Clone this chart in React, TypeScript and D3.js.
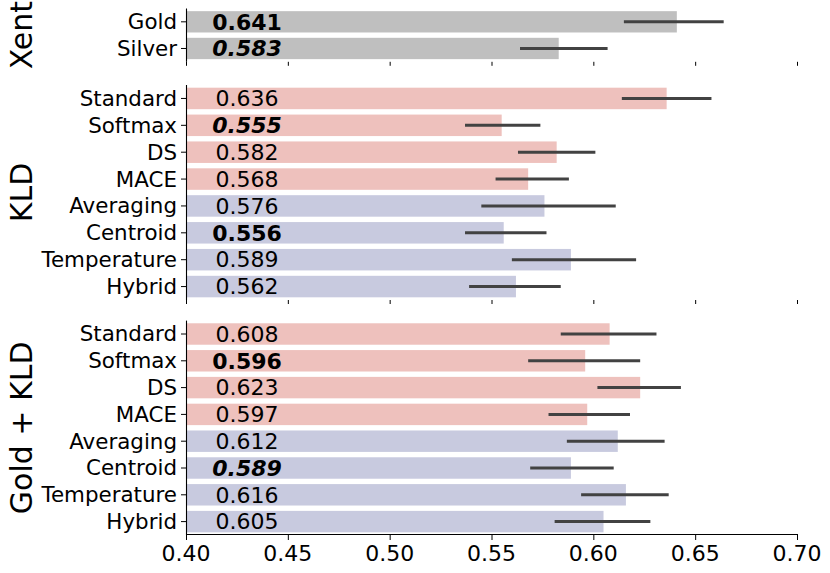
import * as React from "react";
import * as d3 from "d3";

const xentCats = ["Gold", "Silver"];
const xentValues = [0.641, 0.583];
const xentLow = [0.615, 0.564];
const xentHigh = [0.664, 0.607];
const xentStyles = ["bold", "bolditalic"];

const methods = ["Standard", "Softmax", "DS", "MACE", "Averaging", "Centroid", "Temperature", "Hybrid"];
const methodGroup = ["a", "a", "a", "a", "b", "b", "b", "b"];

const kldValues = [0.636, 0.555, 0.582, 0.568, 0.576, 0.556, 0.589, 0.562];
const kldLow = [0.614, 0.537, 0.563, 0.552, 0.545, 0.537, 0.56, 0.539];
const kldHigh = [0.658, 0.574, 0.601, 0.588, 0.611, 0.577, 0.621, 0.584];
const kldStyles = ["", "bolditalic", "", "", "", "bold", "", ""];

const gkValues = [0.608, 0.596, 0.623, 0.597, 0.612, 0.589, 0.616, 0.605];
const gkLow = [0.584, 0.568, 0.602, 0.578, 0.587, 0.569, 0.594, 0.581];
const gkHigh = [0.631, 0.623, 0.643, 0.618, 0.635, 0.61, 0.637, 0.628];
const gkStyles = ["", "bold", "", "", "", "bolditalic", "", ""];

const xTicks = [0.4, 0.45, 0.5, 0.55, 0.6, 0.65, 0.7];

const font = "DejaVu Sans, sans-serif";
const groupColor = { a: "#eec1bd", b: "#c8cadf", x: "#bfbfbf" };

type Panel = {
  title: string;
  cats: string[];
  values: number[];
  low: number[];
  high: number[];
  styles: string[];
  colors: string[];
  top: number;
  bottom: number;
  lastAxis: boolean;
};

const App = () => {
  const width = 830;
  const height = 573;
  const x = d3.scaleLinear().domain([0.4, 0.7]).range([186, 797]);

  const panels: Panel[] = [
    {
      title: "Xent", cats: xentCats, values: xentValues, low: xentLow, high: xentHigh,
      styles: xentStyles, colors: xentCats.map(() => groupColor.x), top: 8.5, bottom: 61.8, lastAxis: false
    },
    {
      title: "KLD", cats: methods, values: kldValues, low: kldLow, high: kldHigh,
      styles: kldStyles, colors: methodGroup.map(g => groupColor[g]), top: 85, bottom: 300, lastAxis: false
    },
    {
      title: "Gold + KLD", cats: methods, values: gkValues, low: gkLow, high: gkHigh,
      styles: gkStyles, colors: methodGroup.map(g => groupColor[g]), top: 320.6, bottom: 535, lastAxis: true
    }
  ];

  const x0 = x(0.4);

  return (
    <svg width={width} height={height} style={{ position: "absolute", left: 0, top: 0 }} fontFamily={font}>
      <rect width={width} height={height} fill="#fff" />
      {panels.map((p, pi) => {
        const y = d3.scaleBand<number>()
          .domain(d3.range(p.cats.length))
          .range([p.top, p.bottom])
          .paddingInner(0.2)
          .paddingOuter(0.1);
        const bw = y.bandwidth();
        return (
          <g key={pi}>
            {p.values.map((v, i) => (
              <rect key={"b" + i} x={x0} y={y(i)} width={x(v) - x0} height={bw} fill={p.colors[i]} />
            ))}
            {p.values.map((v, i) => (
              <line key={"e" + i} x1={x(p.low[i])} x2={x(p.high[i])}
                y1={y(i) + bw / 2} y2={y(i) + bw / 2} stroke="#424242" strokeWidth={3} />
            ))}
            {p.values.map((v, i) => (
              <text key={"v" + i} x={x(0.43)} y={y(i) + bw / 2} dy="0.35em" textAnchor="middle"
                fontSize={22}
                fontWeight={p.styles[i].startsWith("bold") ? "bold" : "normal"}
                fontStyle={p.styles[i].endsWith("italic") ? "italic" : "normal"}>
                {v.toFixed(3)}
              </text>
            ))}
            <line x1={x0 + 0.5} x2={x0 + 0.5} y1={p.top} y2={p.bottom} stroke="#000" strokeWidth={1.1} />
            {p.cats.map((c, i) => (
              <g key={"t" + i}>
                <line x1={x0 - 5} x2={x0} y1={y(i) + bw / 2} y2={y(i) + bw / 2} stroke="#000" strokeWidth={1} />
                <text x={x0 - 9} y={y(i) + bw / 2} dy="0.35em" textAnchor="end" fontSize={21.4}>{c}</text>
              </g>
            ))}
            {xTicks.map((t, i) => (
              <line key={"x" + i} x1={x(t) + 0.5} x2={x(t) + 0.5} y1={p.bottom}
                y2={p.bottom + (p.lastAxis ? 5 : 4)} stroke="#000" strokeWidth={1} />
            ))}
            {p.lastAxis && (
              <>
                <line x1={x0} x2={x(0.7) + 1} y1={p.bottom - 0.5} y2={p.bottom - 0.5} stroke="#000" strokeWidth={1.1} />
                {xTicks.map((t, i) => (
                  <text key={"xl" + i} x={x(t)} y={p.bottom + 18} dy="0.35em" textAnchor="middle" fontSize={22}>
                    {t.toFixed(2)}
                  </text>
                ))}
              </>
            )}
            <text transform={`translate(32,${(p.top + p.bottom) / 2}) rotate(-90)`} textAnchor="middle" fontSize={30}>
              {p.title}
            </text>
          </g>
        );
      })}
    </svg>
  );
};

export default App;
